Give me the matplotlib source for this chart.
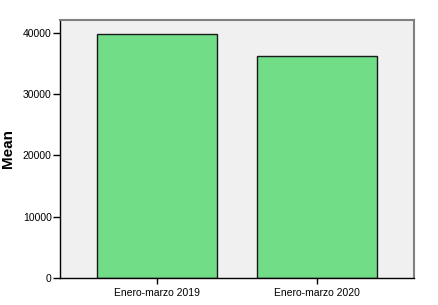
import matplotlib.pyplot as plt

plt.rcParams['font.family'] = ['Liberation Sans', 'DejaVu Sans']

categories = ['Enero-marzo 2019', 'Enero-marzo 2020']
means = [39880, 36200]

fig = plt.figure(figsize=(4.38, 3.05), dpi=100)
ax = fig.add_axes([60 / 438, 27 / 305, 354 / 438, 258 / 305])
ax.set_facecolor('#f0f0f0')

xx = range(len(categories))
ax.bar(xx, means, width=0.75, color='#71dd86', edgecolor='#1a1a1a', linewidth=1)

ax.set_xlim(-0.606, 1.606)
ax.set_ylim(0, 42100)
ax.set_yticks([0, 10000, 20000, 30000, 40000])
ax.set_xticks(list(xx))
ax.set_xticklabels(categories)
ax.tick_params(axis='y', length=5, width=1, pad=1, labelsize=7.5, color='black')
ax.tick_params(axis='x', length=4.5, width=1, pad=3, labelsize=7.5, color='black')

for s in ['left', 'bottom']:
    ax.spines[s].set_color('black')
    ax.spines[s].set_linewidth(1)
for s in ['top', 'right']:
    ax.spines[s].set_color('#808080')
    ax.spines[s].set_linewidth(1.5)

ax.set_ylabel('Mean', fontsize=11, fontweight='bold')
ax.yaxis.set_label_coords(-0.128, 0.5)

fig.savefig('out.png', dpi=100)
